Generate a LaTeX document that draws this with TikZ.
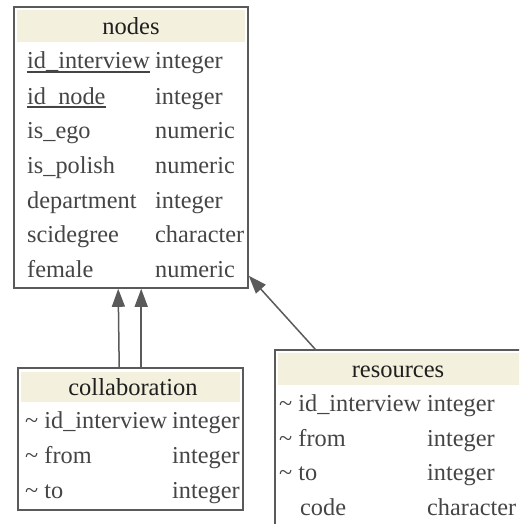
\documentclass[tikz,border=0pt]{standalone}
\usepackage{fontspec}
\setmainfont{Liberation Serif}
\usetikzlibrary{arrows.meta}
\definecolor{hdr}{HTML}{F3F0DE}
\definecolor{edge}{HTML}{5A5A5A}
\definecolor{txt}{HTML}{454545}
\tikzset{
 tbl/.style={draw=edge, line width=1.6pt, inner sep=0pt, fill=white},
 hdrbox/.style={fill=hdr, inner sep=0pt},
 ttl/.style={anchor=base, font=\fontsize{24.5}{24.5}\selectfont, text=black!88, inner sep=0pt},
 fld/.style={anchor=base west, font=\fontsize{24.3}{24.3}\selectfont, text=txt, inner sep=0pt},
 uline/.style={draw=txt, line width=1.2pt},
 arr/.style={draw=edge, line width=1.5pt, -{Triangle[length=18pt,width=13pt]}}
}
\begin{document}
\begin{tikzpicture}[x=1pt,y=-1pt]
\clip (0,0) rectangle (519,524);
\fill[white] (0,0) rectangle (519,524);

% nodes table
\node[tbl, minimum width=234pt, minimum height=281pt] (nodes) at (131,147.5) {};
\node[hdrbox, minimum width=228pt, minimum height=32pt] (nodesh) at (131,26) {};
\node[ttl] (nt) at (131,35) {nodes};
\node[fld] (n1) at (27,69) {id\_interview};
\node[fld] (n2) at (27,104) {id\_node};
\node[fld] (n3) at (27,138) {is\_ego};
\node[fld] (n4) at (27,173) {is\_polish};
\node[fld] (n5) at (27,208) {department};
\node[fld] (n6) at (27,242) {scidegree};
\node[fld] (n7) at (27,277) {female};
\node[fld] (t1) at (155,69) {integer};
\node[fld] (t2) at (155,104) {integer};
\node[fld] (t3) at (155,138) {numeric};
\node[fld] (t4) at (155,173) {numeric};
\node[fld] (t5) at (155,208) {integer};
\node[fld] (t6) at (155,242) {character};
\node[fld] (t7) at (155,277) {numeric};
\draw[uline] ([yshift=-3pt]n1.base west) -- ([yshift=-3pt]n1.base east);
\draw[uline] ([yshift=-3pt]n2.base west) -- ([yshift=-3pt]n2.base east);

% collaboration table
\node[tbl, minimum width=225pt, minimum height=142pt] (collab) at (130.5,439) {};
\node[hdrbox, minimum width=219pt, minimum height=30pt] (collabh) at (130.5,387) {};
\node[ttl] (ct) at (133,395) {collaboration};
\node[fld] (c1) at (25,428) {\textasciitilde\ id\_interview};
\node[fld] (c2) at (25,463) {\textasciitilde\ from};
\node[fld] (c3) at (25,498) {\textasciitilde\ to};
\node[fld] (ct1) at (172,428) {integer};
\node[fld] (ct2) at (172,463) {integer};
\node[fld] (ct3) at (172,498) {integer};

% resources table (runs past the right and bottom edges)
\node[tbl, minimum width=262pt, minimum height=180pt] (res) at (406,440) {};
\node[hdrbox, minimum width=256pt, minimum height=32pt] (resh) at (406,369) {};
\node[ttl] (rt) at (398,377) {resources};
\node[fld] (r1) at (279,411) {\textasciitilde\ id\_interview};
\node[fld] (r2) at (279,446) {\textasciitilde\ from};
\node[fld] (r3) at (279,480) {\textasciitilde\ to};
\node[fld] (r4) at (300,515) {code};
\node[fld] (rt1) at (427,411) {integer};
\node[fld] (rt2) at (427,446) {integer};
\node[fld] (rt3) at (427,480) {integer};
\node[fld] (rt4) at (427,515) {character};

% connectors
\draw[arr] ([xshift=102pt]collab.north west) -- ([xshift=105pt]nodes.south west);
\draw[arr] ([xshift=124pt]collab.north west) -- ([xshift=128pt]nodes.south west);
\draw[arr] ([xshift=41pt]res.north west) -- ([yshift=13pt]nodes.south east);
\end{tikzpicture}
\end{document}
